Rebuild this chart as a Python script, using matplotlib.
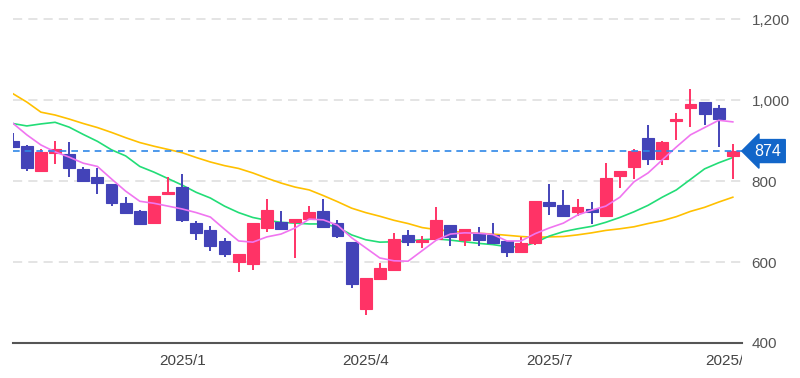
import matplotlib
matplotlib.use("Agg")
import matplotlib.pyplot as plt
from matplotlib.patches import Rectangle
import matplotlib.transforms as mtransforms

# weekly candles, Oct 2024 .. Oct 2025
opens = [900, 886, 825, 869, 867, 830, 810, 793, 746, 726, 696, 768, 785, 696, 679, 652,
         600, 595, 684, 699, 699, 706, 726, 696, 649, 484, 558, 580, 667, 649, 657, 691,
         654, 672, 667, 652, 625, 647, 748, 741, 723, 731, 714, 812, 835, 906, 854, 948,
         980, 995, 980, 862]
highs = [918, 888, 879, 899, 896, 835, 832, 793, 760, 728, 763, 810, 817, 701, 689, 659,
         620, 696, 756, 726, 706, 738, 756, 704, 649, 560, 598, 672, 679, 664, 736, 691,
         681, 686, 696, 652, 662, 751, 793, 778, 756, 748, 844, 825, 879, 938, 899, 968,
         1027, 995, 988, 891]
lows = [882, 825, 825, 842, 810, 800, 768, 738, 721, 694, 696, 768, 699, 654, 627, 612,
        575, 580, 674, 681, 610, 706, 686, 659, 536, 469, 558, 580, 640, 635, 657, 640,
        640, 640, 647, 612, 625, 643, 716, 714, 714, 694, 714, 783, 805, 840, 840, 901,
        933, 938, 884, 805]
closes = [884, 832, 872, 879, 832, 800, 795, 746, 721, 694, 763, 773, 704, 672, 640, 620,
          620, 696, 728, 681, 706, 723, 686, 664, 546, 560, 585, 657, 649, 654, 704, 662,
          681, 654, 647, 625, 647, 751, 738, 714, 736, 723, 807, 825, 874, 854, 896, 953,
          990, 965, 953, 874]

# moving averages
ma_short = [943, 914, 889, 872, 859, 844, 836, 805, 775, 750, 745, 738, 731, 722, 711, 681,
            652, 649, 662, 669, 684, 706, 704, 691, 660, 635, 610, 603, 602, 628, 654, 669,
            672, 671, 668, 652, 652, 670, 684, 696, 716, 728, 738, 760, 798, 820, 852, 884,
            914, 932, 950, 946]
ma_mid = [942, 936, 941, 945, 933, 915, 898, 877, 862, 836, 822, 806, 790, 772, 758, 738,
          722, 710, 703, 698, 696, 694, 694, 686, 667, 655, 649, 650, 652, 655, 657, 654,
          650, 646, 643, 638, 637, 648, 664, 675, 682, 688, 698, 710, 724, 740, 760, 778,
          804, 830, 845, 858]
ma_long = [1016, 995, 970, 963, 953, 942, 932, 920, 907, 895, 886, 878, 870, 858, 847, 838,
           831, 820, 807, 795, 785, 778, 764, 749, 733, 722, 713, 703, 695, 685, 680, 676,
           673, 671, 669, 666, 663, 661, 662, 663, 667, 672, 678, 682, 687, 695, 702, 712,
           725, 735, 748, 760]

tick_pos = [12, 25, 38, 51]
tick_labels = ["2025/1", "2025/4", "2025/7", "2025/10"]
y_ticks = [400, 600, 800, 1000, 1200]
last_price = 874

UP = "#ff3366"
DOWN = "#4343b8"
FONT = ["Liberation Sans", "DejaVu Sans"]

fig = plt.figure(figsize=(8, 3.78), dpi=100)
ax = fig.add_axes([12.7 / 800, 35 / 378, (742 - 12.7) / 800, 343 / 378])

x = list(range(len(closes)))

for yv in y_ticks[1:]:
    ax.axhline(yv, color="#dddddd", lw=1.1, ls=(0, (6, 4)), zorder=0)

ax.plot(x, ma_long, color="#ffc000", lw=1.2, zorder=1)
ax.plot(x, ma_mid, color="#22dd77", lw=1.2, zorder=1)

w = 0.84
for i in x:
    o, h, l, c = opens[i], highs[i], lows[i], closes[i]
    col = UP if c >= o else DOWN
    ax.plot([i, i], [l, h], color=col, lw=1.4, zorder=2, solid_capstyle="butt")
    bottom = min(o, c)
    height = max(abs(c - o), 2)
    ax.add_patch(Rectangle((i - w / 2, bottom), w, height, facecolor=col,
                           edgecolor=col, lw=0.8, zorder=3))

ax.plot(x, ma_short, color="#f075f0", lw=1.2, zorder=4)

ax.axhline(last_price, color="#2f88e8", lw=1.2, ls=(0, (4, 3)), zorder=5)

ax.set_xlim(0, 51.65)
ax.set_ylim(400, 1247)

for s in ["top", "left", "right"]:
    ax.spines[s].set_visible(False)
ax.spines["bottom"].set_color("#555555")
ax.spines["bottom"].set_linewidth(1.5)

ax.set_xticks(tick_pos)
ax.set_xticklabels(tick_labels, family=FONT)
ax.tick_params(axis="x", length=0, pad=8, labelsize=11, labelcolor="#444444")
for lbl in ax.get_xticklabels():
    lbl.set_clip_on(True)
    lbl.set_clip_box(mtransforms.Bbox.from_extents(0, 0, 742, 378))

ax.yaxis.tick_right()
ax.set_yticks(y_ticks)
ax.set_yticklabels([f"{v:,}" for v in y_ticks], family=FONT)
ax.tick_params(axis="y", length=0, pad=7, labelsize=11, labelcolor="#555555")
for lbl in ax.get_yticklabels():
    lbl.set_horizontalalignment("left")

trans = mtransforms.blended_transform_factory(ax.transAxes, ax.transData)
ax.text(1.017, last_price, str(last_price), transform=trans, ha="left", va="center",
        color="white", fontsize=11.5, family=FONT, clip_on=False, zorder=6,
        bbox=dict(boxstyle="larrow,pad=0.25", fc="#1266c9", ec="#1266c9"))

fig.savefig("out.png", dpi=100)
